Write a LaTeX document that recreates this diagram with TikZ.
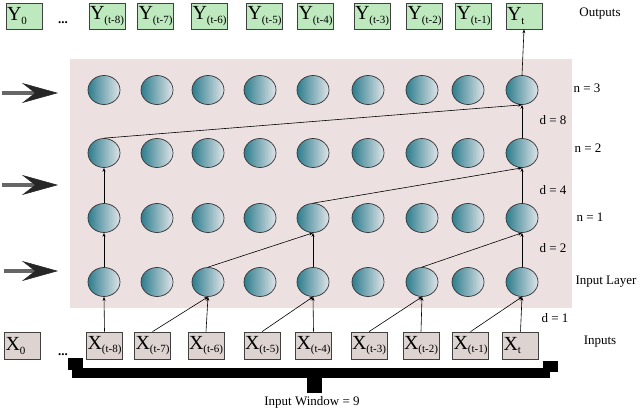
\documentclass[tikz,border=0pt]{standalone}
\usepackage{fontspec}
\setmainfont{Liberation Serif}
\usetikzlibrary{arrows.meta,shapes.geometric}

\definecolor{layerbg}{RGB}{237,224,225}
\definecolor{outgreen}{RGB}{190,233,190}
\definecolor{ingrey}{RGB}{221,211,208}
\definecolor{neuronl}{RGB}{45,125,142}
\definecolor{neuronr}{RGB}{224,228,232}

\newcommand{\lbl}[2]{\makebox[34pt][l]{{\fontsize{20}{20}\selectfont #1}\raisebox{-3.5pt}{\fontsize{11}{11}\selectfont #2}}}

\tikzset{
	neuron/.style={ellipse,draw=black!80,line width=0.7pt,minimum width=32pt,minimum height=29pt,inner sep=0pt,left color=neuronl,right color=neuronr},
	ybox/.style={draw=black!75,line width=0.7pt,fill=outgreen,minimum height=26pt,inner xsep=1pt,inner ysep=0pt},
	xbox/.style={draw=black!75,line width=0.7pt,fill=ingrey,minimum height=27pt,inner xsep=1pt,inner ysep=0pt},
	link/.style={line width=0.6pt,-{Stealth[length=4pt,width=3pt]}},
	feed/.style={line width=4pt,draw=black!60,-{Stealth[length=36pt,width=20pt,inset=13pt,line width=0.5pt,fill=black!85,color=black!85]}},
	note/.style={font=\fontsize{13}{13}\selectfont,inner sep=0pt}
}

\begin{document}
\begin{tikzpicture}[x=1pt,y=-1pt]
	\useasboundingbox (0,0) rectangle (640,409);
	\fill[layerbg] (70,59) rectangle (572,308);

	% hidden layers, row 1 = input layer
	\foreach \xx [count=\c] in {104,157,208,260,313,368,422,468,522}
		\foreach \yy [count=\r] in {282,218,153,90}
			\node[neuron] (h\r\c) at (\xx,\yy) {};

	% outputs
	\node[ybox] (y0) at (24,16) {\lbl{Y}{0}};
	\node[ybox] (y1) at (107,16) {\lbl{Y}{(t-8)}};
	\node[ybox] (y2) at (155.5,16) {\lbl{Y}{(t-7)}};
	\node[ybox] (y3) at (209.5,16) {\lbl{Y}{(t-6)}};
	\node[ybox] (y4) at (264.5,16) {\lbl{Y}{(t-5)}};
	\node[ybox] (y5) at (315.5,16) {\lbl{Y}{(t-4)}};
	\node[ybox] (y6) at (372,16) {\lbl{Y}{(t-3)}};
	\node[ybox] (y7) at (424.5,16) {\lbl{Y}{(t-2)}};
	\node[ybox] (y8) at (473.5,16) {\lbl{Y}{(t-1)}};
	\node[ybox] (y9) at (524,16) {\lbl{Y}{t}};

	% inputs
	\node[xbox] (x0) at (22.5,346) {\lbl{X}{0}};
	\node[xbox] (x1) at (104.5,345.5) {\lbl{X}{(t-8)}};
	\node[xbox] (x2) at (152.5,345.5) {\lbl{X}{(t-7)}};
	\node[xbox] (x3) at (206,345.5) {\lbl{X}{(t-6)}};
	\node[xbox] (x4) at (262,345.5) {\lbl{X}{(t-5)}};
	\node[xbox] (x5) at (313.5,345.5) {\lbl{X}{(t-4)}};
	\node[xbox] (x6) at (369,345.5) {\lbl{X}{(t-3)}};
	\node[xbox] (x7) at (421,345.5) {\lbl{X}{(t-2)}};
	\node[xbox] (x8) at (470.5,345.5) {\lbl{X}{(t-1)}};
	\node[xbox] (x9) at (520.5,345.5) {\lbl{X}{t}};

	\node[font=\fontsize{13}{13}\selectfont\bfseries] (ydots) at (63,23) {...};
	\node[font=\fontsize{13}{13}\selectfont\bfseries] (xdots) at (63,355) {...};

	% d = 1
	\draw[link] (x1.north) -- (h11.south);
	\draw[link] (x2.north) -- (h13.south);
	\draw[link] (x3.north) -- (h13.south);
	\draw[link] (x4.north) -- (h15.south);
	\draw[link] (x5.north) -- (h15.south);
	\draw[link] (x6.north) -- (h17.south);
	\draw[link] (x7.north) -- (h17.south);
	\draw[link] (x8.north) -- (h19.south);
	\draw[link] (x9.north) -- (h19.south);
	% d = 2
	\draw[link] (h11.north) -- (h21.south);
	\draw[link] (h13.north) -- (h25.south);
	\draw[link] (h15.north) -- (h25.south);
	\draw[link] (h17.north) -- (h29.south);
	\draw[link] (h19.north) -- (h29.south);
	% d = 4
	\draw[link] (h21.north) -- (h31.south);
	\draw[link] (h25.north) -- (h39.south);
	\draw[link] (h29.north) -- (h39.south);
	% d = 8
	\draw[link] (h31.north) -- (h49.south);
	\draw[link] (h39.north) -- (h49.south);
	\draw[link] (h49.north) -- (y9.south);

	% side arrows
	\draw[feed] (2,93) -- (58,93);
	\draw[feed] (2,185) -- (58,185);
	\draw[feed] (4,271) -- (58,271);

	% input window
	\fill (68,358) rectangle (83,370);
	\fill (72,368) rectangle (550,378);
	\fill (543,361) rectangle (558,372);
	\fill (307,376) rectangle (322,393);

	\node[note] (lout) at (600,14) {Outputs};
	\node[note] (n3) at (587,88) {n = 3};
	\node[note] (d8) at (553,120) {d = 8};
	\node[note] (n2) at (588,148) {n = 2};
	\node[note] (d4) at (553,190) {d = 4};
	\node[note] (n1) at (590,217) {n = 1};
	\node[note] (d2) at (553,248) {d = 2};
	\node[note] (linl) at (606,282) {Input Layer};
	\node[note] (d1) at (555,318) {d = 1};
	\node[note] (lin) at (600,342) {Inputs};
	\node[note] (lwin) at (312,402) {Input Window = 9};
\end{tikzpicture}
\end{document}
